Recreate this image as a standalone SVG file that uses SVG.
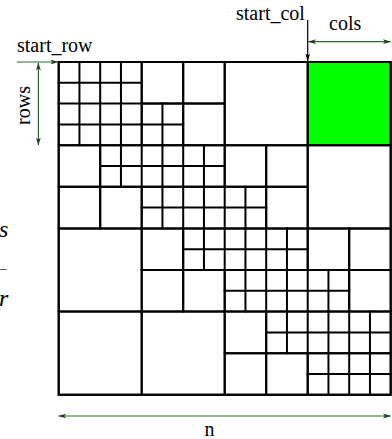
<svg xmlns="http://www.w3.org/2000/svg" width="392" height="439" viewBox="0 0 392 439">
<style>
.g rect, .g path { fill: none; stroke: #000; stroke-width: 2; vector-effect: non-scaling-stroke; stroke-linecap: square; }
.g rect.green { fill: #00ff00; }
.lbl { font-family: "Liberation Serif", "Times New Roman", serif; font-size: 20px; fill: #000; }
.it { font-family: "Liberation Serif", "Times New Roman", serif; font-size: 24px; font-style: italic; fill: #000; }
.dash { font-family: "Liberation Serif", "Times New Roman", serif; font-size: 13px; fill: #000; }
.arr { fill: none; stroke: #2d6b2d; stroke-width: 1.2; }
.arrk { fill: none; stroke: #000; stroke-width: 1.2; }
</style>
<defs>
<marker id="ah" viewBox="0 0 8 6" refX="7.5" refY="3" markerWidth="8" markerHeight="6" markerUnits="userSpaceOnUse" orient="auto-start-reverse">
<path d="M0,0.6 L8,3 L0,5.4 L2,3 z" fill="#1c3d1c"/>
</marker>
<marker id="ahk" viewBox="0 0 8 6" refX="7.5" refY="3" markerWidth="8" markerHeight="6" markerUnits="userSpaceOnUse" orient="auto-start-reverse">
<path d="M0,0.6 L8,3 L0,5.4 L2,3 z" fill="#000"/>
</marker>
</defs>
<g id="matrix" class="g" transform="translate(58.7 62) scale(20.75 20.8)">
<rect class="green" x="12" y="0" width="4" height="4"/>
<!-- 4x4 blocks -->
<rect x="8" y="0" width="4" height="4"/>
<rect x="12" y="4" width="4" height="4"/>
<rect x="0" y="8" width="4" height="4"/>
<rect x="0" y="12" width="4" height="4"/>
<rect x="4" y="12" width="4" height="4"/>
<!-- 2x2 blocks -->
<rect x="4" y="0" width="2" height="2"/>
<rect x="6" y="0" width="2" height="2"/>
<rect x="6" y="2" width="2" height="2"/>
<rect x="0" y="4" width="2" height="2"/>
<rect x="0" y="6" width="2" height="2"/>
<rect x="2" y="6" width="2" height="2"/>
<rect x="8" y="4" width="2" height="2"/>
<rect x="10" y="4" width="2" height="2"/>
<rect x="10" y="6" width="2" height="2"/>
<rect x="4" y="8" width="2" height="2"/>
<rect x="12" y="8" width="2" height="2"/>
<rect x="14" y="8" width="2" height="2"/>
<rect x="4" y="10" width="2" height="2"/>
<rect x="6" y="10" width="2" height="2"/>
<rect x="14" y="10" width="2" height="2"/>
<rect x="8" y="12" width="2" height="2"/>
<rect x="8" y="14" width="2" height="2"/>
<rect x="10" y="14" width="2" height="2"/>
<!-- 1x1 bands -->
<rect x="0" y="0" width="4" height="4"/>
<path d="M1 0V4M2 0V4M3 0V4M0 1H4M0 2H4M0 3H4"/>
<rect x="4" y="2" width="2" height="2"/>
<path d="M5 2V4M4 3H6"/>
<rect x="2" y="4" width="6" height="2"/>
<path d="M3 4V6M4 4V6M5 4V6M6 4V6M7 4V6M2 5H8"/>
<rect x="4" y="6" width="6" height="2"/>
<path d="M5 6V8M6 6V8M7 6V8M8 6V8M9 6V8M4 7H10"/>
<rect x="6" y="8" width="6" height="2"/>
<path d="M7 8V10M8 8V10M9 8V10M10 8V10M11 8V10M6 9H12"/>
<rect x="8" y="10" width="6" height="2"/>
<path d="M9 10V12M10 10V12M11 10V12M12 10V12M13 10V12M8 11H14"/>
<rect x="10" y="12" width="6" height="2"/>
<path d="M11 12V14M12 12V14M13 12V14M14 12V14M15 12V14M10 13H16"/>
<rect x="12" y="14" width="4" height="2"/>
<path d="M13 14V16M14 14V16M15 14V16M12 15H16"/>
<rect x="0" y="0" width="16" height="16"/>
</g>
<g id="connectors">
<line class="arr" x1="17" y1="62" x2="58" y2="62" marker-end="url(#ah)"/>
<line class="arrk" x1="307.7" y1="20" x2="307.7" y2="61" marker-end="url(#ahk)"/>
<line class="arr" x1="308.5" y1="41.7" x2="390.5" y2="41.7" marker-start="url(#ah)" marker-end="url(#ah)"/>
<line class="arr" x1="38.4" y1="63" x2="38.4" y2="145" marker-start="url(#ah)" marker-end="url(#ah)"/>
<line class="arr" x1="58.7" y1="416" x2="390.5" y2="416" marker-start="url(#ah)" marker-end="url(#ah)"/>
</g>
<g id="labels">
<text class="lbl" x="17" y="52">start_row</text>
<text class="lbl" x="236" y="20">start_col</text>
<text class="lbl" x="329" y="30">cols</text>
<text class="lbl" x="30" y="105.5" text-anchor="middle" transform="rotate(-90 30 105.5)">rows</text>
<text class="lbl" x="209.5" y="436" text-anchor="middle">n</text>
<text class="it" x="-1" y="237">s</text>
<text class="dash" x="0" y="272">–</text>
<text class="it" x="-1" y="306">r</text>
</g>
</svg>
